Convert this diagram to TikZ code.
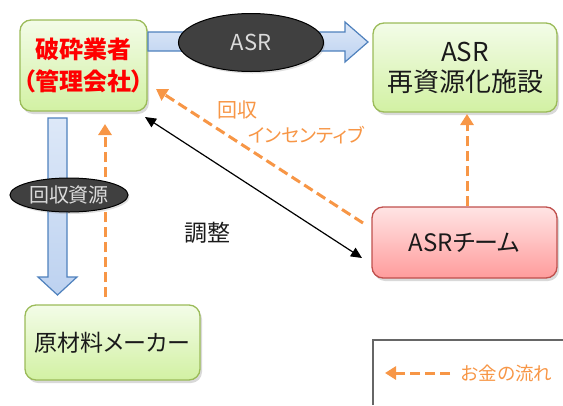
\documentclass[tikz,border=0pt]{standalone}
\usepackage{fontspec}
\setmainfont{Noto Sans CJK JP}[RawFeature=+palt]
\usetikzlibrary{shapes.geometric,arrows.meta,shadows}
\definecolor{gtop}{HTML}{F3FCE8}
\definecolor{gbot}{HTML}{D2F1A3}
\definecolor{gborder}{HTML}{9BBB59}
\definecolor{ptop}{HTML}{FFE4E4}
\definecolor{pbot}{HTML}{FF9C9C}
\definecolor{pborder}{HTML}{C0504D}
\definecolor{orng}{HTML}{F79646}
\definecolor{btop}{HTML}{DDE8F8}
\definecolor{bbot}{HTML}{BDD2F0}
\definecolor{bborder}{HTML}{4F81BD}
\definecolor{dark}{HTML}{404040}
\definecolor{txt}{HTML}{1A1A1A}
\begin{document}
\begin{tikzpicture}[x=1pt,y=-1pt,
  box/.style={draw=gborder,line width=1.3pt,rounded corners=11pt,top color=gtop,bottom color=gbot,
    drop shadow={opacity=0.3,shadow xshift=2pt,shadow yshift=-3pt},align=center,inner sep=0pt,text=txt},
  pbox/.style={box,draw=pborder,top color=ptop,bottom color=pbot},
  blk/.style={draw=bborder,line width=1.2pt,top color=btop,bottom color=bbot},
  oval/.style={draw=black,line width=1pt,fill=dark,
    drop shadow={opacity=0.25,shadow xshift=1.5pt,shadow yshift=-2pt}},
  ovaltext/.style={text=white!86!black},
  money/.style={draw=orng,line width=3pt,dash pattern=on 10pt off 5pt,-{Triangle[length=11pt,width=13pt]}},
  both/.style={draw=black,line width=1.2pt,{Triangle[length=11pt,width=10pt]}-{Triangle[length=11pt,width=10pt]}},
  lbl/.style={inner sep=0pt,anchor=center}]
\useasboundingbox (0,0) rectangle (563,405);
% boxes
\node[box,minimum width=127pt,minimum height=91pt,text=red,font=\fontsize{24}{32}\selectfont\bfseries] (hasai) at (83.5,65.5) {破砕業者\\（管理会社）};
\node[box,minimum width=184pt,minimum height=89pt,font=\fontsize{26}{30}\selectfont] (shisetsu) at (465,67.5) {ASR\\再資源化施設};
\node[pbox,minimum width=185pt,minimum height=71pt,font=\fontsize{24}{26}\selectfont] (team) at (464.5,242.5) {ASRチーム};
\node[box,minimum width=175pt,minimum height=75pt,font=\fontsize{23}{26}\selectfont] (maker) at (112.5,342.5) {原材料メーカー};
% block arrow right
\path[blk] (148,32) -- (345,32) -- (345,22) -- (368,42) -- (345,62) -- (345,51) -- (148,51) -- cycle;
% block arrow down
\path[blk] (48,118) -- (67,118) -- (67,277) -- (77,277) -- (57.5,295) -- (38,277) -- (48,277) -- cycle;
% money arrows
\coordinate (m1s) at (105,297);
\coordinate (m1e) at (105,124);
\draw[money] (m1s) -- (m1e);
\coordinate (m2s) at (363,223);
\coordinate (m2e) at (156,89);
\draw[money] (m2s) -- (m2e);
\draw[money] (team.north -| 467,0) -- (467,114);
% ellipses
\coordinate (asr) at (251,42.5);
\path[oval] (asr) ellipse [x radius=72.5, y radius=29];
\node[lbl,ovaltext,font=\fontsize{22}{24}\selectfont] (asrt) at (asr) {ASR};
\coordinate (kaishu) at (69,195);
\path[oval] (kaishu) ellipse [x radius=59, y radius=17];
\node[lbl,ovaltext,font=\fontsize{20}{22}\selectfont] (kaishut) at (kaishu) {回収資源};
% black double arrow
\coordinate (c1) at (145,117);
\coordinate (c2) at (362,258);
\draw[both] (c1) -- (c2);
% labels
\node[lbl,anchor=west,text=orng,font=\fontsize{20}{22}\selectfont] (l1) at (217,110) {回収};
\node[lbl,anchor=west,text=orng,font=\fontsize{19}{21}\selectfont] (l2) at (248,135) {インセンティブ};
\node[lbl,text=txt,font=\fontsize{23}{25}\selectfont] (l3) at (207,233) {調整};
% legend
\draw[line width=1.3pt,draw=black!60] (373,405) -- (373,340) -- (563,340);
\coordinate (lg1) at (450,373);
\coordinate (lg2) at (385,373);
\draw[money] (lg1) -- (lg2);
\node[lbl,anchor=west,text=orng,font=\fontsize{18.5}{20}\selectfont] (l4) at (461,373) {お金の流れ};
\end{tikzpicture}
\end{document}
